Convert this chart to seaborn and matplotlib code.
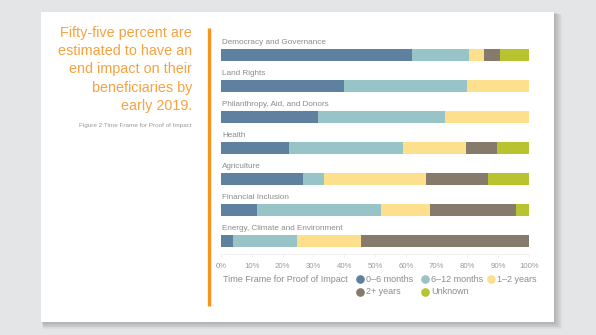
import matplotlib
matplotlib.use("Agg")
import matplotlib.pyplot as plt
from matplotlib.patches import Rectangle
from matplotlib.lines import Line2D
import numpy as np
import pandas as pd
import seaborn as sns

# ---------------- data ----------------
categories = ["Democracy and Governance", "Land Rights", "Philanthropy, Aid, and Donors",
              "Health", "Agriculture", "Financial Inclusion", "Energy, Climate and Environment"]
series_names = ["0\u20136 months", "6\u201312 months", "1\u20132 years", "2+ years", "Unknown"]
s_0_6 = [62.0, 40.0, 31.6, 22.2, 26.7, 11.8, 3.9]
s_6_12 = [18.5, 40.0, 41.0, 36.8, 6.7, 40.1, 20.9]
s_1_2 = [5.0, 20.0, 27.4, 20.4, 33.3, 15.9, 20.8]
s_2plus = [5.0, 0.0, 0.0, 10.3, 20.0, 28.1, 54.4]
s_unknown = [9.5, 0.0, 0.0, 10.3, 13.3, 4.1, 0.0]
tick_values = [0, 10, 20, 30, 40, 50, 60, 70, 80, 90, 100]
tick_labels = [f"{v}%" for v in tick_values]
headline = "Fifty-five percent are\nestimated to have an\nend impact on their\nbeneficiaries by\nearly 2019."
caption = "Figure 2:Time Frame for Proof of Impact"
legend_title = "Time Frame for Proof of Impact"

colors = ["#5d819e", "#98c3c7", "#fde08d", "#857a6b", "#b7c32f"]
ORANGE = "#f7a23f"
GRAY_TXT = "#8c8c8c"

W, H = 596, 335
def fx(x): return x / W
def fy(y): return 1 - y / H

fig = plt.figure(figsize=(W / 100, H / 100), dpi=100)
fig.patch.set_facecolor("#e4e5e6")

# card shadow + card (soft, layered)
for i in range(8):
    off = 8 - i
    fig.add_artist(Rectangle((fx(41 + off * 0.3), fy(322 + off * 0.9)), fx(513 + off * 0.7),
                             (310 + off * 0.6) / H,
                             transform=fig.transFigure, facecolor="black", alpha=0.028,
                             edgecolor="none", zorder=0))
fig.add_artist(Rectangle((fx(41), fy(322)), fx(513), 310 / H, transform=fig.transFigure,
                         facecolor="white", edgecolor="none", zorder=1))

# orange vertical rule
fig.add_artist(Line2D([fx(209), fx(209)], [fy(28), fy(306)], transform=fig.transFigure,
                      color="#f7941d", lw=2.4, solid_capstyle="butt", zorder=2))

# headline text
fig.text(fx(192), fy(26), headline, ha="right", va="top", color=ORANGE,
         fontsize=10.4, family="Liberation Sans", linespacing=1.38, zorder=3)
fig.text(fx(192), fy(126), caption, ha="right", va="center", color="#9a9a9a",
         fontsize=4.6, family="Liberation Sans", zorder=3)

# ---------------- chart ----------------
ax = fig.add_axes([fx(221), fy(254), (529 - 221) / W, (254 - 30) / H], zorder=4)
ax.patch.set_alpha(0)

df = pd.DataFrame({"category": categories, "a": s_0_6, "b": s_6_12, "c": s_1_2,
                   "d": s_2plus, "e": s_unknown})
stack = np.cumsum(df[["a", "b", "c", "d", "e"]].values, axis=1)
for k in range(4, -1, -1):
    sns.barplot(x=stack[:, k], y=df["category"], orient="h", color=colors[k],
                width=0.37, linewidth=0, saturation=1, ax=ax, order=categories)

ax.set_xlim(0, 100)
ax.set_ylim(6.42, -0.8)
ax.set_xlabel("")
ax.set_ylabel("")
ax.set_yticks([])
ax.set_xticks(tick_values)
ax.set_xticklabels(tick_labels, fontsize=5.6, color="#9a9a9a", family="Liberation Sans")
ax.tick_params(axis="x", length=2.5, color="#eeeeee", pad=4, width=0.6)
for s in ["top", "right", "left"]:
    ax.spines[s].set_visible(False)
ax.spines["bottom"].set_color("#efefef")
ax.spines["bottom"].set_linewidth(0.6)

for i, name in enumerate(categories):
    ax.text(0.3, i - 0.39, name, ha="left", va="center", fontsize=5.9,
            color=GRAY_TXT, family="Liberation Sans")

# ---------------- legend ----------------
fig.text(fx(223), fy(279), legend_title, ha="left", va="center", fontsize=6.5,
         color=GRAY_TXT, family="Liberation Sans", zorder=5)
legend_pos = [(360, 279), (425, 279), (491, 279), (360, 292), (425, 292)]
for (x, y), name, c in zip(legend_pos, series_names, colors):
    fig.add_artist(Line2D([fx(x)], [fy(y)], marker="o", markersize=5.2, color=c,
                          linestyle="none", transform=fig.transFigure, zorder=5))
    fig.text(fx(x + 6), fy(y), name, ha="left", va="center", fontsize=6.5,
             color=GRAY_TXT, family="Liberation Sans", zorder=5)

fig.savefig("out.png", dpi=100, facecolor=fig.get_facecolor())
